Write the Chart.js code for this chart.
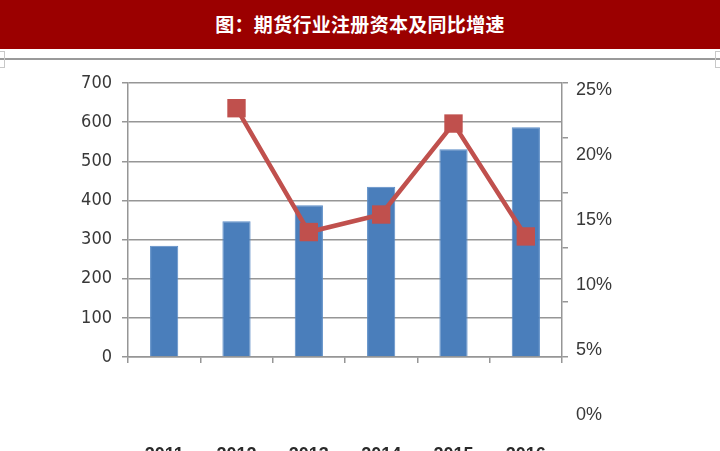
<!DOCTYPE html>
<html>
<head>
<meta charset="utf-8">
<script src="https://cdn.jsdelivr.net/npm/chart.js@4.4.0/dist/chart.umd.min.js"></script>
<style>
  html, body { margin: 0; padding: 0; background: #fff; }
  body { width: 720px; height: 451px; position: relative; overflow: hidden; }
  .title-bar {
    position: absolute; left: 0; top: 0; width: 720px; height: 49px;
    background: #9b0000; color: #fff;
    font-family: "Noto Sans CJK SC", sans-serif; font-weight: bold;
    font-size: 19px; letter-spacing: 0.3px;
    line-height: 47px; text-align: center;
  }
  .rule { position: absolute; left: 0; top: 58px; width: 720px; height: 2px; background: #9a9a9a; }
  .corner { position: absolute; top: 51px; width: 4px; height: 15px; border: 1px solid #c8c8c8; }
  .chart-box { position: absolute; left: 0; top: 62px; width: 720px; height: 389px; }
</style>
</head>
<body>
<div class="title-bar">图：期货行业注册资本及同比增速</div>
<div class="rule"></div>
<div class="corner" style="left:-1px"></div>
<div class="corner" style="left:715px"></div>
<div class="chart-box"><canvas id="chart"></canvas></div>
<script>
// data
const years = ["2011", "2012", "2013", "2014", "2015", "2016"];
const capital = [284, 347, 388, 435, 531, 587];        // 注册资本 (亿元)
const growth = [null, 22.7, 11.4, 13.0, 21.3, 11.0];  // 同比增速 (%)
const rightLabels = [25, 20, 15, 10, 5, 0];           // 右轴标签 (%)

const textColor = "#383838";
const gridColor = "#969696";

// the right-hand labels in the picture sit on a wider spacing than the axis ticks
const rightLabelPlugin = {
  id: "rightLabels",
  afterDraw(chart) {
    const lab = chart.scales.yLab;
    const ctx = chart.ctx;
    ctx.save();
    ctx.fillStyle = textColor;
    ctx.font = '18px "Liberation Sans", sans-serif';
    ctx.textAlign = "left";
    ctx.textBaseline = "middle";
    rightLabels.forEach(v => {
      ctx.fillText(v + "%", chart.chartArea.right + 14, lab.getPixelForValue(v));
    });
    ctx.restore();
  }
};

new Chart(document.getElementById("chart"), {
  data: {
    labels: years,
    datasets: [
      {
        type: "line",
        data: growth,
        yAxisID: "y1",
        order: 0,
        borderColor: "#c0504d",
        backgroundColor: "#c0504d",
        borderWidth: 4.5,
        pointStyle: "rect",
        pointRadius: 13,
        pointHoverRadius: 13,
        pointBorderWidth: 0,
        tension: 0
      },
      {
        type: "bar",
        data: capital,
        yAxisID: "y",
        order: 1,
        backgroundColor: "#4a7ebb",
        borderColor: "#5b8cc6",
        borderWidth: 1,
        barPercentage: 0.39,
        categoryPercentage: 1
      }
    ]
  },
  options: {
    responsive: true,
    maintainAspectRatio: false,
    animation: false,
    layout: { padding: { top: 21, left: 0, right: 0, bottom: 0 } },
    plugins: { legend: { display: false }, tooltip: { enabled: false } },
    scales: {
      x: {
        afterFit: s => { s.height = 94; },
        grid: { display: true, drawOnChartArea: false, drawTicks: true, tickLength: 6, color: gridColor, lineWidth: 1.5 },
        border: { display: true, color: gridColor, width: 1.5 },
        ticks: {
          color: "#2a2a2a", padding: 81,
          font: { family: '"Liberation Sans", sans-serif', size: 18, weight: "bold" }
        }
      },
      y: {
        position: "left",
        min: 0, max: 700,
        afterFit: s => { s.width = 128; },
        grid: { color: gridColor, lineWidth: 1.5, tickLength: 6 },
        border: { display: true, color: gridColor, width: 1.5 },
        ticks: {
          stepSize: 100, color: textColor, padding: 10,
          font: { family: '"Liberation Sans Narrow", "DejaVu Sans Condensed", sans-serif', size: 18 }
        }
      },
      y1: {
        position: "right",
        min: 0, max: 25,
        afterFit: s => { s.width = 158; },
        grid: { drawOnChartArea: false, color: gridColor, lineWidth: 1.5, tickLength: 6 },
        border: { display: true, color: gridColor, width: 1.5 },
        ticks: { stepSize: 5, display: false }
      },
      yLab: {
        position: "right",
        display: false,
        min: 4.46, max: 25.54
      }
    }
  },
  plugins: [rightLabelPlugin]
});
</script>
</body>
</html>
